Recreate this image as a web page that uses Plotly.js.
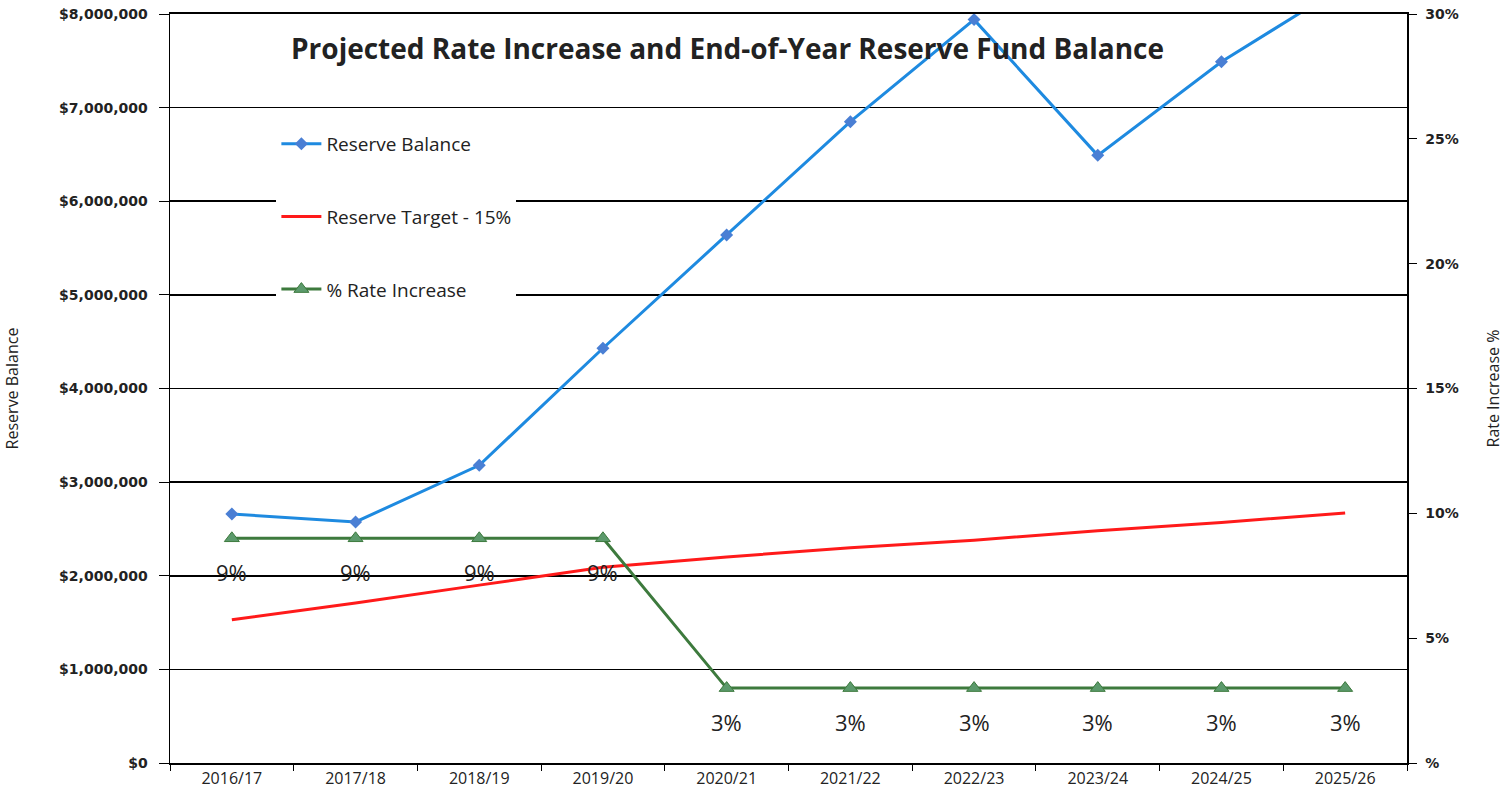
<!DOCTYPE html>
<html>
<head>
<meta charset="utf-8">
<script src="https://cdn.plot.ly/plotly-3.0.1.min.js"></script>
<style>html,body{margin:0;padding:0;background:#fff;}#chart{width:1504px;height:803px;}</style>
</head>
<body>
<div id="chart"></div>
<script>
const years = ["2016/17","2017/18","2018/19","2019/20","2020/21","2021/22","2022/23","2023/24","2024/25","2025/26"];
const reserveBalance = [2660000, 2575000, 3180000, 4430000, 5640000, 6850000, 7940000, 6490000, 7490000, 8310000];
const reserveTarget = [1530000, 1710000, 1900000, 2090000, 2200000, 2300000, 2380000, 2480000, 2570000, 2670000];
const rateIncrease = [0.09, 0.09, 0.09, 0.09, 0.03, 0.03, 0.03, 0.03, 0.03, 0.03];
const leftTickVals = [0,1000000,2000000,3000000,4000000,5000000,6000000,7000000,8000000];
const leftTickText = ["$0","$1,000,000","$2,000,000","$3,000,000","$4,000,000","$5,000,000","$6,000,000","$7,000,000","$8,000,000"];
const rightTickVals = [0,0.05,0.10,0.15,0.20,0.25,0.30];
const rightTickText = ["%","5%","10%","15%","20%","25%","30%"];

const traces = [
  {x: years, y: reserveBalance, name: "Reserve Balance", type: "scatter", mode: "lines+markers",
   line: {color: "#1e8ae0", width: 3}, marker: {symbol: "diamond", size: 10, color: "#4a7fd4"},
   legendgroup: "a"},
  {x: years, y: reserveTarget, name: "Reserve Target - 15%", type: "scatter", mode: "lines",
   line: {color: "#ff1a1a", width: 3}, legendgroup: "b"},
  {x: years, y: rateIncrease, name: "% Rate Increase", type: "scatter", mode: "lines+markers", yaxis: "y2",
   line: {color: "#3d7a3d", width: 3}, marker: {symbol: "triangle-up", size: 13, color: "#5c9a6c", line:{color:"#3d7a3d", width:1}},
   legendgroup: "c"}
];

const annotations = years.map((yr, i) => ({
  x: yr, y: rateIncrease[i], xref: "x", yref: "y2",
  text: Math.round(rateIncrease[i]*100) + "%", showarrow: false, yshift: -34,
  font: {family: "Open Sans, sans-serif", size: 22, color: "#222"}
}));
annotations.push({
  xref: "paper", yref: "paper", x: 0.451, y: 0.955, xanchor: "center", yanchor: "middle",
  text: "<b>Projected Rate Increase and End-of-Year Reserve Fund Balance</b>", showarrow: false,
  font: {family: "Open Sans, sans-serif", size: 28, color: "#222"}
});

const layout = {
  width: 1504, height: 803,
  margin: {l: 170, r: 97, t: 14, b: 40},
  paper_bgcolor: "#fff", plot_bgcolor: "#fff",
  showlegend: true,
  legend: {x: 0.086, y: 0.852, xanchor: "left", yanchor: "top", bgcolor: "#fff",
    font: {family: "Open Sans, sans-serif", size: 19, color: "#222"},
    traceorder: "grouped", tracegroupgap: 45, itemwidth: 40},
  xaxis: {type: "category", range: [-0.5, 9.5], tickson: "boundaries", ticks: "outside", ticklen: 6,
    tickcolor: "#000", showline: true, mirror: true, linecolor: "#000", linewidth: 2, showgrid: false,
    tickfont: {family: "Open Sans, sans-serif", size: 16, color: "#222"}, fixedrange: true},
  yaxis: {range: [0, 8000000], tickvals: leftTickVals, ticktext: leftTickText, ticks: "outside", ticklen: 10,
    tickcolor: "#000", showline: true, linecolor: "#000", linewidth: 1.5, showgrid: true, gridcolor: "#000", gridwidth: 1.6,
    zeroline: false, ticklabelstandoff: 8,
    tickfont: {family: "DejaVu Sans, sans-serif", size: 14, color: "#222", weight: "bold"},
    title: {text: "Reserve Balance", standoff: 36, font: {family: "Open Sans, sans-serif", size: 16, color: "#222"}}},
  yaxis2: {overlaying: "y", side: "right", range: [0, 0.30], tickvals: rightTickVals, ticktext: rightTickText,
    ticks: "outside", ticklen: 8, tickcolor: "#000", showline: true, linecolor: "#000", linewidth: 1.5, showgrid: false, zeroline: false,
    ticklabelstandoff: 6,
    tickfont: {family: "DejaVu Sans, sans-serif", size: 14, color: "#222", weight: "bold"},
    title: {text: "Rate Increase %", standoff: 34, font: {family: "Open Sans, sans-serif", size: 16, color: "#222"}}},
  annotations: annotations
};

Plotly.newPlot("chart", traces, layout, {displayModeBar: false, staticPlot: true});
</script>
</body>
</html>
